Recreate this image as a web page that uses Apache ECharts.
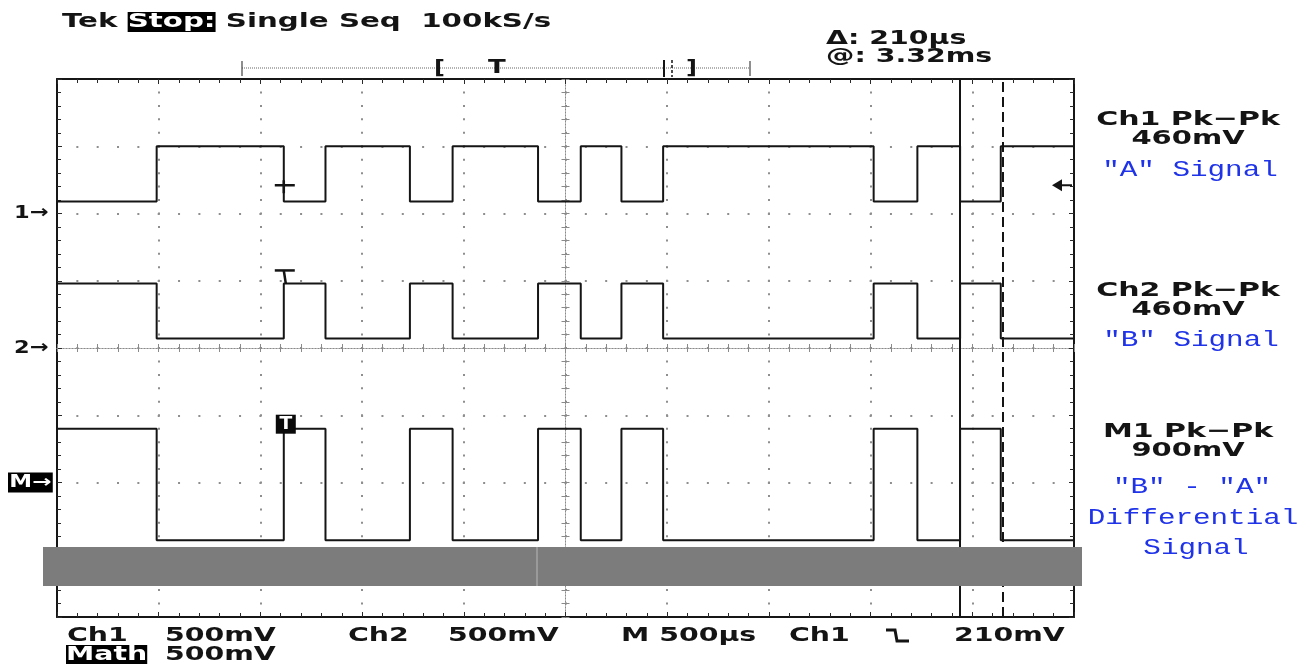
<!DOCTYPE html>
<html>
<head>
<meta charset="utf-8">
<script src="https://cdn.jsdelivr.net/npm/echarts@6/dist/echarts.min.js"></script>
<style>
html,body{margin:0;padding:0;background:#fff;}
#c{width:1316px;height:664px;}
</style>
</head>
<body>
<div id="c"></div>
<script>
// ---------------- values ----------------
const timeSpanUs = 5000;        // 10 divisions x 500 us
const timePerDivUs = 500;
const yDivs = 8;
const voltsPerDiv = 0.5;        // 500 mV / div for Ch1, Ch2 and Math
// logic transitions (us from left edge of screen)
const edgeTimesUs = [490, 1115, 1320, 1735, 1945, 2365, 2575, 2775, 2980, 4015, 4230, 4440, 4640];
// state of each signal in every segment (0 = low level, 1 = high level)
const ch1States  = [0, 1, 0, 1, 0, 1, 0, 1, 0, 1, 0, 1, 0, 1];
const ch2States  = [1, 0, 1, 0, 1, 0, 1, 0, 1, 0, 1, 0, 1, 0];
const mathStates = [1, 0, 1, 0, 1, 0, 1, 0, 1, 0, 1, 0, 1, 0];
// levels in volts relative to each channel's ground marker
const ch1LevelsV  = [0.09, 0.50];
const ch2LevelsV  = [0.07, 0.48];
const mathLevelsV = [-0.43, 0.40];
// ground-marker positions (divisions from screen centre)
const ch1OffsetDiv = 2, ch2OffsetDiv = 0, mathOffsetDiv = -2;
const triggerUs = 1115;         // trigger point (Ch1 falling edge)
const triggerLevelV = 0.21;     // 210 mV
const cursorUs = [4440, 4650];  // @ 3.32 ms, delta 210 us

// ---------------- helpers ----------------
function stepSeries(levels, states, offsetDiv) {
  const toDiv = v => offsetDiv + v / voltsPerDiv;
  const pts = [[0, toDiv(levels[states[0]])]];
  edgeTimesUs.forEach((t, i) => pts.push([t, toDiv(levels[states[i + 1]])]));
  pts.push([timeSpanUs, toDiv(levels[states[states.length - 1]])]);
  return pts;
}

const GRID = {left: 57, top: 79, width: 1017, height: 538};
const dotColor = '#8e8e8e';
const tickColor = '#2a2a2a';
const dotStepY = GRID.height / yDivs / 5;
const dotStepX = GRID.width / (timeSpanUs / timePerDivUs) / 5;

function borderAxis(dim, pos, split) {
  const isX = dim === 'x';
  return {
    gridIndex: 0, type: 'value', position: pos,
    min: isX ? 0 : -yDivs / 2, max: isX ? timeSpanUs : yDivs / 2,
    interval: isX ? timePerDivUs : 1,
    axisLine: {show: true, onZero: false, lineStyle: {color: '#161616', width: 2}},
    axisTick: {show: true, inside: true, length: 5, lineStyle: {color: tickColor, width: 1}},
    minorTick: {show: true, splitNumber: 5, length: 4, lineStyle: {color: tickColor, width: 1}},
    axisLabel: {show: false},
    splitLine: {show: split, lineStyle: {color: dotColor, width: 2,
      type: isX ? [2, dotStepY - 2] : [2, dotStepX - 2], dashOffset: 1}},
    minorSplitLine: {show: false}
  };
}
function centerAxis(dim, pos) {
  const isX = dim === 'x';
  return {
    gridIndex: 1, type: 'value', position: pos,
    min: isX ? -timeSpanUs / 2 : -yDivs / 2, max: isX ? timeSpanUs / 2 : yDivs / 2,
    interval: isX ? timePerDivUs : 1,
    axisLine: {show: true, onZero: true, onZeroAxisIndex: 2,
      lineStyle: {color: '#8a8a8a', width: 1, type: [1, 2]}},
    axisTick: {show: true, inside: false, length: 4, lineStyle: {color: '#8a8a8a', width: 1}},
    minorTick: {show: true, splitNumber: 5, length: 4, lineStyle: {color: '#8a8a8a', width: 1}},
    axisLabel: {show: false},
    splitLine: {show: false}
  };
}

const traceStyle = {color: '#151515', width: 2};
function trace(name, data, extra) {
  return Object.assign({
    name, type: 'line', step: 'end', data, xAxisIndex: 0, yAxisIndex: 0,
    showSymbol: false, symbol: 'none', silent: true, z: 5,
    lineStyle: traceStyle, itemStyle: {color: '#151515'}
  }, extra || {});
}

const chart = echarts.init(document.getElementById('c'), null, {renderer: 'canvas', width: 1316, height: 664});

const option = {
  animation: false,
  backgroundColor: '#ffffff',
  grid: [Object.assign({show: false}, GRID), Object.assign({show: false}, GRID)],
  xAxis: [borderAxis('x', 'bottom', true), borderAxis('x', 'top', false),
          centerAxis('x', 'bottom'), centerAxis('x', 'top')],
  yAxis: [borderAxis('y', 'left', true), borderAxis('y', 'right', false),
          centerAxis('y', 'left'), centerAxis('y', 'right')],
  series: [
    trace('Ch1 "A"', stepSeries(ch1LevelsV, ch1States, ch1OffsetDiv), {
      markLine: {
        silent: true, symbol: ['none', 'none'], label: {show: false},
        lineStyle: {color: '#141414', width: 2},
        data: [
          {xAxis: cursorUs[0], lineStyle: {type: 'solid', color: '#141414', width: 2}},
          {xAxis: cursorUs[1], lineStyle: {type: [10, 5], color: '#141414', width: 2}}
        ]
      }
    }),
    trace('Ch2 "B"', stepSeries(ch2LevelsV, ch2States, ch2OffsetDiv)),
    trace('M1 "B"-"A"', stepSeries(mathLevelsV, mathStates, mathOffsetDiv))
  ]
};
chart.setOption(option);

// ---------------- annotations ----------------
const P = (t, d) => chart.convertToPixel({seriesIndex: 0}, [t, d]);
const trigX = P(triggerUs, 0)[0];
const rightX = P(timeSpanUs, 0)[0];
const ch1TrigY = P(0, ch1OffsetDiv + triggerLevelV / voltsPerDiv)[1];
const ch2HighY = P(0, ch2OffsetDiv + ch2LevelsV[1] / voltsPerDiv)[1];
const mHighY = P(0, mathOffsetDiv + mathLevelsV[1] / voltsPerDiv)[1];
const gnd1Y = P(0, ch1OffsetDiv)[1], gnd2Y = P(0, ch2OffsetDiv)[1], gndMY = P(0, mathOffsetDiv)[1];

const FB = 'bold 20px "DejaVu Sans"';
const FM = '22px "Liberation Mono"';
const BLUE = '#1f33e8';
const SX = 1.42;
function T(text, x, y, o) {
  o = o || {};
  const al = o.align || 'left';
  return {
    type: 'text', x, y, scaleX: o.sx || SX, z: o.z || 50, silent: true,
    style: {text, font: o.font || FB, fill: o.fill || '#141414',
      align: al, verticalAlign: 'middle', textAlign: al, textVerticalAlign: 'middle',
      backgroundColor: o.bg, padding: o.pad, rich: o.rich}
  };
}
function L(x1, y1, x2, y2, o) {
  o = o || {};
  return {type: 'line', z: o.z || 50, silent: true, shape: {x1, y1, x2, y2},
    style: {stroke: o.stroke || '#141414', lineWidth: o.w || 2, lineDash: o.dash || null}};
}

const g = [];
// header
g.push(T('Tek {s|Stop:} Single Seq  100kS/s', 62, 22, {
  sx: 1.465,
  rich: {s: {font: FB, fill: '#fff', color: '#fff', backgroundColor: '#000'}}
}));
g.push(T('\u0394: 210\u00b5s', 826, 39));
g.push(T('@: 3.32ms', 826, 57));
// record bar
g.push(L(242, 68, 750, 68, {w: 1, stroke: '#666', dash: [1, 1]}));
g.push(L(242, 61, 242, 76, {w: 1.2, stroke: '#444'}));
g.push(L(750, 61, 750, 76, {w: 1.2, stroke: '#444'}));
g.push(T('[', 434, 69, {sx: 1.2}));
g.push(T('T', 488, 68, {sx: 1.3}));
g.push(L(664, 60, 664, 77, {w: 2}));
g.push(L(672, 60, 672, 77, {w: 1.5, dash: [3, 2]}));
g.push(T(']', 686, 69, {sx: 1.2}));
// ground markers
g.push(T('1\u2192', 14, gnd1Y, {font: 'bold 18px "DejaVu Sans"', sx: 1.25}));
g.push(T('2\u2192', 14, gnd2Y, {font: 'bold 18px "DejaVu Sans"', sx: 1.25}));
g.push(T('M\u2192', 8, gndMY, {font: 'bold 17px "DejaVu Sans"', sx: 1.35, fill: '#fff', bg: '#000', pad: [2, 1, 1, 1]}));
// trigger position markers on the traces
g.push(L(trigX - 9, ch1TrigY, trigX + 11, ch1TrigY, {w: 2.5}));
g.push(L(trigX, ch1TrigY - 5, trigX, ch1TrigY + 8, {w: 2.5}));
g.push(L(trigX - 9, ch2HighY - 13, trigX + 11, ch2HighY - 13, {w: 2.5}));
g.push(L(trigX, ch2HighY - 13, trigX + 2, ch2HighY, {w: 2.5}));
g.push({type: 'rect', z: 50, silent: true, shape: {x: trigX - 8, y: mHighY - 14, width: 20, height: 19}, style: {fill: '#0a0a0a'}});
g.push(T('T', trigX + 2, mHighY - 4.5, {fill: '#fff', align: 'center', sx: 1.1, font: 'bold 17px "DejaVu Sans"'}));
// trigger level arrow (right edge)
g.push({type: 'polygon', z: 50, silent: true,
  shape: {points: [[rightX - 22, ch1TrigY], [rightX - 12, ch1TrigY - 6], [rightX - 12, ch1TrigY + 6]]},
  style: {fill: '#141414'}});
g.push(L(rightX - 13, ch1TrigY, rightX - 2, ch1TrigY, {w: 2}));
// grey band
g.push({type: 'rect', z: 60, silent: true, shape: {x: 43, y: 547, width: 1039, height: 39}, style: {fill: '#7c7c7c'}});
g.push(L(537, 547, 537, 586, {w: 1, stroke: '#b8b8b8', z: 61}));
// bottom readout
g.push(T('Ch1', 67, 636));
g.push(T('500mV', 165, 636));
g.push(T('Ch2', 348, 636));
g.push(T('500mV', 448, 636));
g.push(T('M 500\u00b5s', 621, 636));
g.push(T('Ch1', 789, 636));
g.push({type: 'polyline', z: 50, silent: true,
  shape: {points: [[886, 630], [895, 630], [897, 641], [909, 641]]},
  style: {stroke: '#141414', lineWidth: 3, fill: null}});
g.push(T('210mV', 954, 636));
g.push(T('Math', 66, 655, {fill: '#fff', bg: '#000'}));
g.push(T('500mV', 165, 655));
// right side readouts
const RX = 1188;
g.push(T('Ch1 Pk\u2212Pk', RX, 120, {align: 'center', sx: 1.5}));
g.push(T('460mV', RX, 139, {align: 'center', sx: 1.45}));
g.push(T('"A" Signal', 1190, 170, {align: 'center', font: FM, fill: BLUE, sx: 1.33}));
g.push(T('Ch2 Pk\u2212Pk', RX, 291, {align: 'center', sx: 1.5}));
g.push(T('460mV', RX, 310, {align: 'center', sx: 1.45}));
g.push(T('"B" Signal', 1191, 340, {align: 'center', font: FM, fill: BLUE, sx: 1.33}));
g.push(T('M1 Pk\u2212Pk', RX, 432, {align: 'center', sx: 1.5}));
g.push(T('900mV', RX, 451, {align: 'center', sx: 1.45}));
g.push(T('"B" - "A"', 1192, 487, {align: 'center', font: FM, fill: BLUE, sx: 1.33}));
g.push(T('Differential', 1193, 518, {align: 'center', font: FM, fill: BLUE, sx: 1.33}));
g.push(T('Signal', 1196, 548, {align: 'center', font: FM, fill: BLUE, sx: 1.33}));

chart.setOption({graphic: {elements: g}});
</script>
</body>
</html>
